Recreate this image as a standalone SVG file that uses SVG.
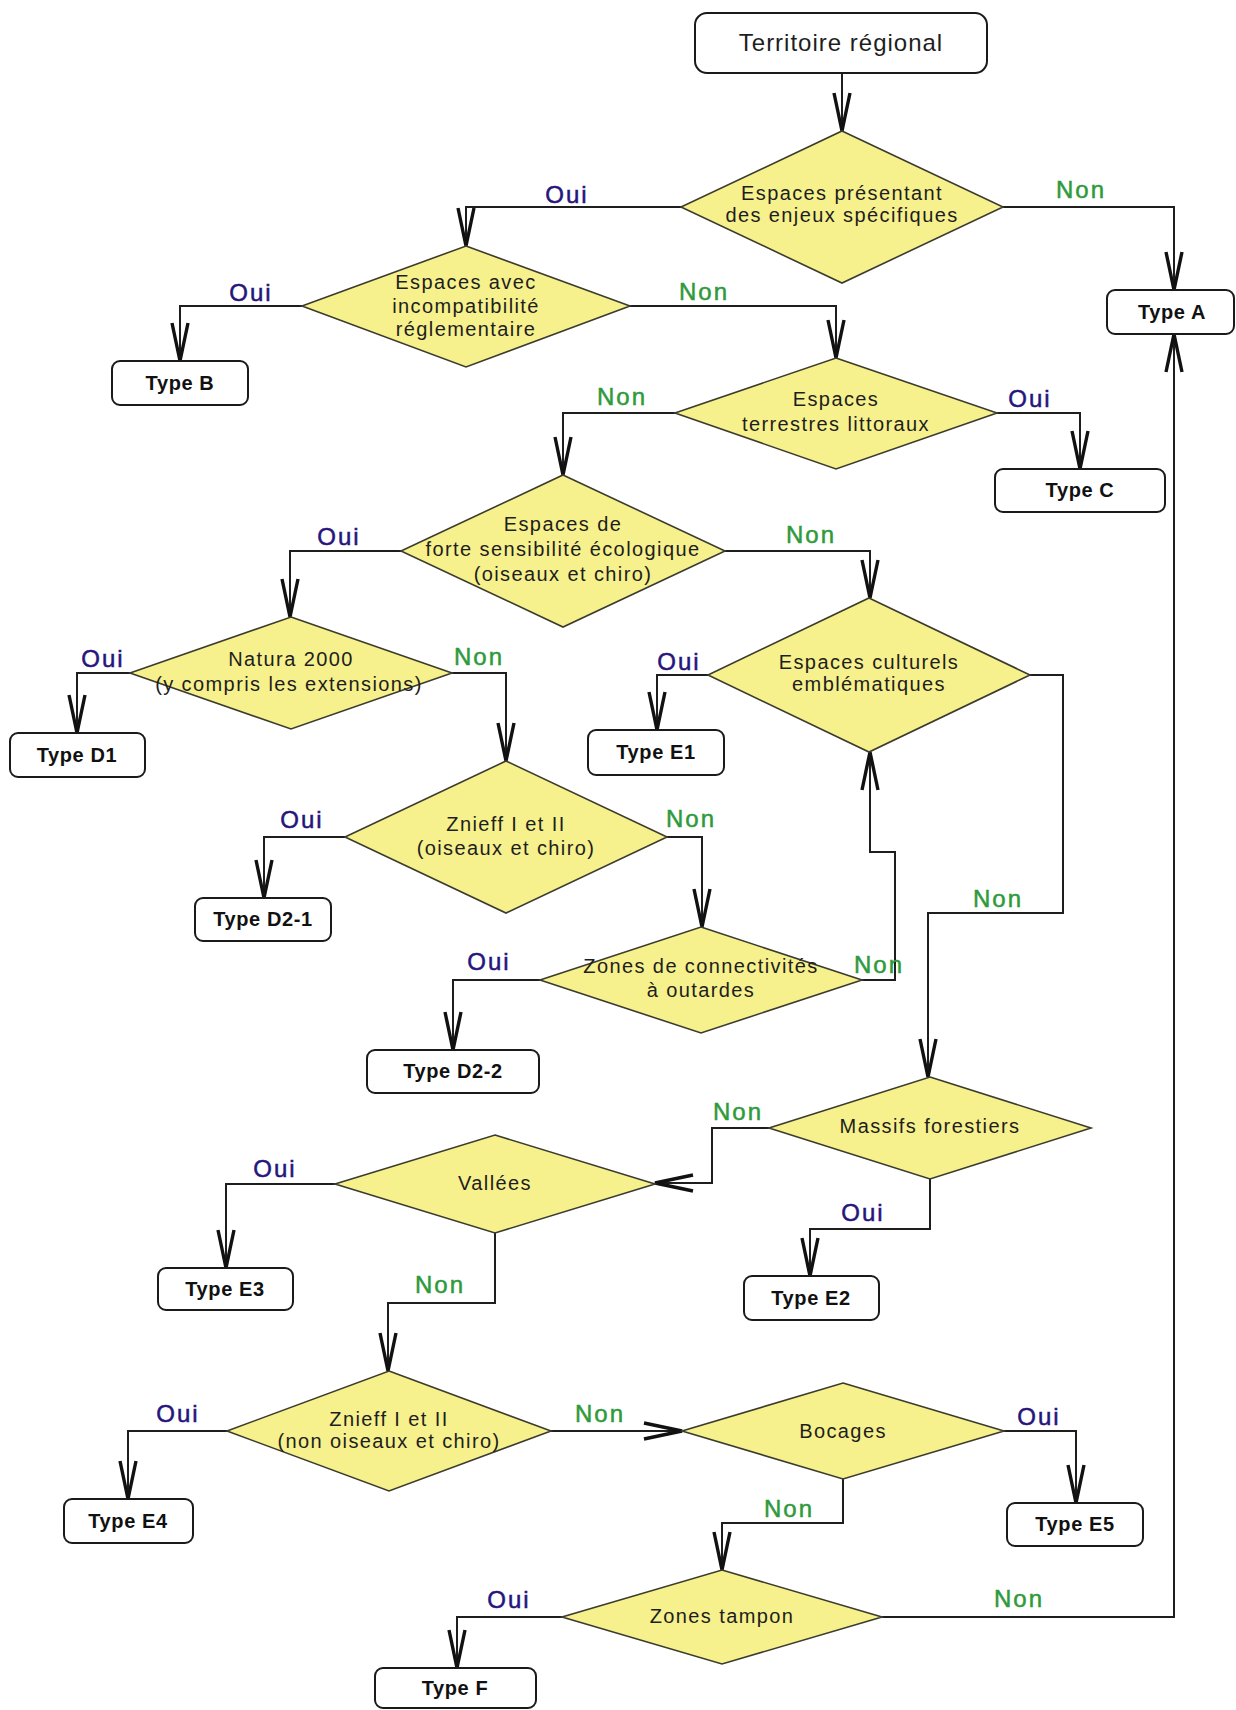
<svg xmlns="http://www.w3.org/2000/svg" width="1236" height="1710" viewBox="0 0 1236 1710">
<defs>
<style>
.dia{fill:#f6f18c;stroke:#3b3b2e;stroke-width:1.6}
.box{fill:#ffffff;stroke:#1a1a1a;stroke-width:2}
.dt{font-family:"Liberation Sans",Arial,sans-serif;font-size:20px;letter-spacing:1.4px;fill:#1e1e1e;text-anchor:middle}
.st{font-family:"Liberation Sans",Arial,sans-serif;font-size:24px;letter-spacing:1px;fill:#1e1e1e;text-anchor:middle}
.bt{font-family:"Liberation Sans",Arial,sans-serif;font-size:20px;font-weight:bold;letter-spacing:0.6px;fill:#111;text-anchor:middle}
.oui{font-family:"Liberation Sans",Arial,sans-serif;font-size:24px;letter-spacing:2px;fill:#27157c;stroke:#27157c;stroke-width:0.5;text-anchor:middle}
.non{font-family:"Liberation Sans",Arial,sans-serif;font-size:24px;letter-spacing:2px;fill:#2f9a3c;stroke:#2f9a3c;stroke-width:0.5;text-anchor:middle}
.c{fill:none;stroke:#1e1e1e;stroke-width:2;marker-end:url(#v)}
</style>
<marker id="v" viewBox="-42 -12 46 24" refX="0" refY="0" markerWidth="46" markerHeight="24" markerUnits="userSpaceOnUse" orient="auto" overflow="visible">
<path d="M-38,-8 L0,0 L-38,8" fill="none" stroke="#111" stroke-width="3.4" stroke-linejoin="miter"/>
</marker>
</defs>
<rect width="1236" height="1710" fill="#ffffff"/>

<g id="connectors">
<polyline class="c" points="842,73 842,131"/>
<polyline class="c" points="681,207 466,207 466,246"/>
<polyline class="c" points="1003,207 1174,207 1174,290"/>
<polyline class="c" points="302,306 180,306 180,361"/>
<polyline class="c" points="630,306 836,306 836,358"/>
<polyline class="c" points="997,413 1080,413 1080,469"/>
<polyline class="c" points="675,413 563,413 563,475"/>
<polyline class="c" points="401,551 290,551 290,617"/>
<polyline class="c" points="725,551 870,551 870,598"/>
<polyline class="c" points="130,673 77,673 77,733"/>
<polyline class="c" points="452,673 506,673 506,761"/>
<polyline class="c" points="708,675 657,675 657,730"/>
<polyline class="c" points="1030,675 1063,675 1063,913 928,913 928,1077"/>
<polyline class="c" points="345,837 264,837 264,898"/>
<polyline class="c" points="667,837 702,837 702,927"/>
<polyline class="c" points="540,980 453,980 453,1050"/>
<polyline class="c" points="862,980 895,980 895,852 870,852 870,752"/>
<polyline class="c" points="769,1128 712,1128 712,1183 655,1183"/>
<polyline class="c" points="930,1179 930,1229 810,1229 810,1276"/>
<polyline class="c" points="335,1184 226,1184 226,1268"/>
<polyline class="c" points="495,1233 495,1303 388,1303 388,1371"/>
<polyline class="c" points="227,1431 128,1431 128,1499"/>
<polyline class="c" points="551,1431 682,1431"/>
<polyline class="c" points="1004,1431 1076,1431 1076,1503"/>
<polyline class="c" points="843,1479 843,1523 722,1523 722,1570"/>
<polyline class="c" points="562,1617 457,1617 457,1668"/>
<polyline class="c" points="882,1617 1174,1617 1174,334"/>
</g>

<g id="labels">
<text class="oui" x="567" y="203">Oui</text>
<text class="non" x="1081" y="198">Non</text>
<text class="oui" x="251" y="301">Oui</text>
<text class="non" x="704" y="300">Non</text>
<text class="non" x="622" y="405">Non</text>
<text class="oui" x="1030" y="407">Oui</text>
<text class="oui" x="339" y="545">Oui</text>
<text class="non" x="811" y="543">Non</text>
<text class="oui" x="103" y="667">Oui</text>
<text class="non" x="479" y="665">Non</text>
<text class="oui" x="679" y="670">Oui</text>
<text class="oui" x="302" y="828">Oui</text>
<text class="non" x="691" y="827">Non</text>
<text class="oui" x="489" y="970">Oui</text>
<text class="non" x="879" y="973">Non</text>
<text class="non" x="998" y="907">Non</text>
<text class="non" x="738" y="1120">Non</text>
<text class="oui" x="863" y="1221">Oui</text>
<text class="oui" x="275" y="1177">Oui</text>
<text class="non" x="440" y="1293">Non</text>
<text class="oui" x="178" y="1422">Oui</text>
<text class="non" x="600" y="1422">Non</text>
<text class="oui" x="1039" y="1425">Oui</text>
<text class="non" x="789" y="1517">Non</text>
<text class="oui" x="509" y="1608">Oui</text>
<text class="non" x="1019" y="1607">Non</text>
</g>

<g id="n-start">
<rect class="box" x="695" y="13" width="292" height="60" rx="12"/>
<text class="st" x="841" y="51">Territoire régional</text>
</g>

<g id="n-d1">
<polygon class="dia" points="842,131 1003,207 842,283 681,207"/>
<text class="dt" x="842" y="200">Espaces présentant</text>
<text class="dt" x="842" y="222">des enjeux spécifiques</text>
</g>

<g id="n-d2">
<polygon class="dia" points="466,246 630,306 466,367 302,306"/>
<text class="dt" x="466" y="289">Espaces avec</text>
<text class="dt" x="466" y="313">incompatibilité</text>
<text class="dt" x="466" y="336">réglementaire</text>
</g>

<g id="n-d3">
<polygon class="dia" points="836,358 997,413 836,469 675,413"/>
<text class="dt" x="836" y="406">Espaces</text>
<text class="dt" x="836" y="431">terrestres littoraux</text>
</g>

<g id="n-d4">
<polygon class="dia" points="563,475 725,551 563,627 401,551"/>
<text class="dt" x="563" y="531">Espaces de</text>
<text class="dt" x="563" y="556">forte sensibilité écologique</text>
<text class="dt" x="563" y="581">(oiseaux et chiro)</text>
</g>

<g id="n-d5">
<polygon class="dia" points="291,617 452,673 291,729 130,673"/>
<text class="dt" x="291" y="666">Natura 2000</text>
<text class="dt" x="289" y="691">(y compris les extensions)</text>
</g>

<g id="n-d6">
<polygon class="dia" points="869,598 1030,675 869,752 708,675"/>
<text class="dt" x="869" y="669">Espaces culturels</text>
<text class="dt" x="869" y="691">emblématiques</text>
</g>

<g id="n-d7">
<polygon class="dia" points="506,761 667,837 506,913 345,837"/>
<text class="dt" x="506" y="831">Znieff I et II</text>
<text class="dt" x="506" y="855">(oiseaux et chiro)</text>
</g>

<g id="n-d8">
<polygon class="dia" points="701,927 862,980 701,1033 540,980"/>
<text class="dt" x="701" y="973">Zones de connectivités</text>
<text class="dt" x="701" y="997">à outardes</text>
</g>

<g id="n-d9">
<polygon class="dia" points="930,1077 1091,1128 930,1179 769,1128"/>
<text class="dt" x="930" y="1133">Massifs forestiers</text>
</g>

<g id="n-d10">
<polygon class="dia" points="495,1135 655,1184 495,1233 335,1184"/>
<text class="dt" x="495" y="1190">Vallées</text>
</g>

<g id="n-d11">
<polygon class="dia" points="389,1371 551,1431 389,1491 227,1431"/>
<text class="dt" x="389" y="1426">Znieff I et II</text>
<text class="dt" x="389" y="1448">(non oiseaux et chiro)</text>
</g>

<g id="n-d12">
<polygon class="dia" points="843,1383 1004,1431 843,1479 682,1431"/>
<text class="dt" x="843" y="1438">Bocages</text>
</g>

<g id="n-d13">
<polygon class="dia" points="722,1570 882,1617 722,1664 562,1617"/>
<text class="dt" x="722" y="1623">Zones tampon</text>
</g>

<g id="n-typeA">
<rect class="box" x="1107" y="290" width="127" height="44" rx="8"/>
<text class="bt" x="1172" y="319">Type A</text>
</g>
<g id="n-typeB">
<rect class="box" x="112" y="361" width="136" height="44" rx="8"/>
<text class="bt" x="180" y="390">Type B</text>
</g>
<g id="n-typeC">
<rect class="box" x="995" y="469" width="170" height="43" rx="8"/>
<text class="bt" x="1080" y="497">Type C</text>
</g>
<g id="n-typeD1">
<rect class="box" x="10" y="733" width="135" height="44" rx="8"/>
<text class="bt" x="77" y="762">Type D1</text>
</g>
<g id="n-typeE1">
<rect class="box" x="588" y="730" width="136" height="45" rx="8"/>
<text class="bt" x="656" y="759">Type E1</text>
</g>
<g id="n-typeD2-1">
<rect class="box" x="195" y="898" width="136" height="43" rx="8"/>
<text class="bt" x="263" y="926">Type D2-1</text>
</g>
<g id="n-typeD2-2">
<rect class="box" x="367" y="1050" width="172" height="43" rx="8"/>
<text class="bt" x="453" y="1078">Type D2-2</text>
</g>
<g id="n-typeE2">
<rect class="box" x="744" y="1276" width="135" height="44" rx="8"/>
<text class="bt" x="811" y="1305">Type E2</text>
</g>
<g id="n-typeE3">
<rect class="box" x="158" y="1268" width="135" height="42" rx="8"/>
<text class="bt" x="225" y="1296">Type E3</text>
</g>
<g id="n-typeE4">
<rect class="box" x="64" y="1499" width="129" height="44" rx="8"/>
<text class="bt" x="128" y="1528">Type E4</text>
</g>
<g id="n-typeE5">
<rect class="box" x="1007" y="1503" width="136" height="43" rx="8"/>
<text class="bt" x="1075" y="1531">Type E5</text>
</g>
<g id="n-typeF">
<rect class="box" x="375" y="1668" width="161" height="40" rx="8"/>
<text class="bt" x="455" y="1695">Type F</text>
</g>
</svg>
